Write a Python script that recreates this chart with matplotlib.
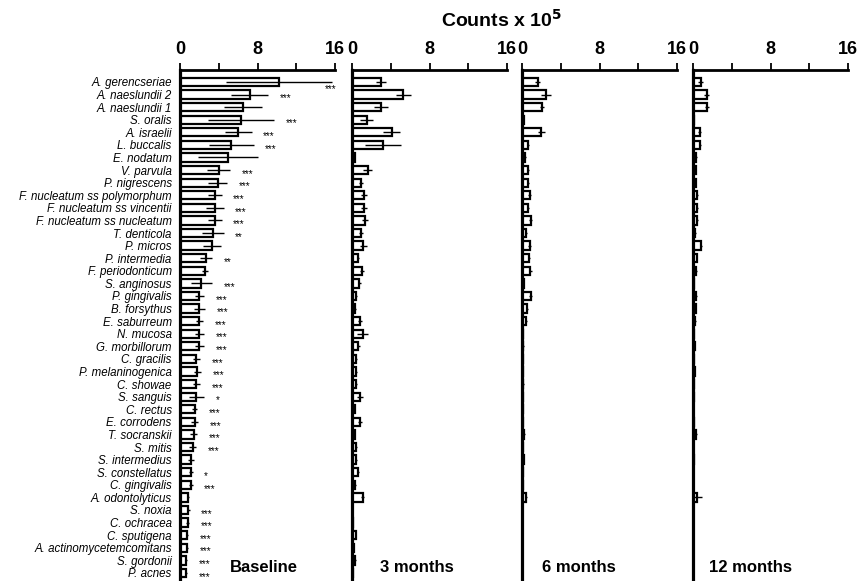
import matplotlib
matplotlib.use("Agg")
import matplotlib.pyplot as plt
import numpy as np

species = ["A. gerencseriae", "A. naeslundii 2", "A. naeslundii 1", "S. oralis", "A. israelii",
           "L. buccalis", "E. nodatum", "V. parvula", "P. nigrescens",
           "F. nucleatum ss polymorphum", "F. nucleatum ss vincentii", "F. nucleatum ss nucleatum",
           "T. denticola", "P. micros", "P. intermedia", "F. periodonticum", "S. anginosus",
           "P. gingivalis", "B. forsythus", "E. saburreum", "N. mucosa", "G. morbillorum",
           "C. gracilis", "P. melaninogenica", "C. showae", "S. sanguis", "C. rectus",
           "E. corrodens", "T. socranskii", "S. mitis", "S. intermedius", "S. constellatus",
           "C. gingivalis", "A. odontolyticus", "S. noxia", "C. ochracea", "C. sputigena",
           "A. actinomycetemcomitans", "S. gordonii", "P. acnes"]

baseline = [10.2, 7.2, 6.5, 6.3, 6.0, 5.3, 5.0, 4.0, 3.9, 3.6, 3.6, 3.6, 3.4, 3.3, 2.7, 2.6, 2.2,
            2.0, 2.0, 2.0, 2.0, 2.0, 1.7, 1.8, 1.7, 1.7, 1.5, 1.5, 1.4, 1.3, 1.1, 1.1, 1.1, 0.85,
            0.85, 0.8, 0.75, 0.75, 0.65, 0.65]
baseline_sem = [5.5, 1.9, 2.0, 3.4, 1.4, 2.3, 3.1, 1.2, 1.0, 0.7, 0.9, 0.7, 1.1, 0.9, 0.6, 0.3, 1.1,
                0.5, 0.6, 0.4, 0.5, 0.5, 0.35, 0.4, 0.4, 0.8, 0.3, 0.35, 0.35, 0.35, 0.3, 0.2, 0.2,
                0.1, 0.15, 0.15, 0.1, 0.1, 0.1, 0.1]

m3 = [3.0, 5.3, 3.0, 1.5, 4.1, 3.2, 0.3, 1.6, 0.9, 1.2, 1.2, 1.3, 0.9, 1.15, 0.6, 1.05, 0.75, 0.45,
      0.35, 0.8, 1.1, 0.65, 0.4, 0.45, 0.45, 0.8, 0.3, 0.8, 0.3, 0.45, 0.45, 0.6, 0.35, 1.1, 0.05,
      0.1, 0.4, 0.2, 0.35, 0.1]
m3_sem = [0.5, 0.8, 0.7, 0.7, 0.9, 1.9, 0.05, 0.5, 0.2, 0.3, 0.3, 0.3, 0.2, 0.35, 0.1, 0.2, 0.15,
          0.1, 0.1, 0.2, 0.6, 0.15, 0.1, 0.1, 0.1, 0.3, 0.05, 0.2, 0.05, 0.1, 0.1, 0.1, 0.05, 0.15,
          0.02, 0.02, 0.05, 0.05, 0.05, 0.02]

m6 = [1.6, 2.5, 2.1, 0.2, 2.0, 0.6, 0.35, 0.6, 0.6, 0.8, 0.6, 0.9, 0.45, 0.8, 0.7, 0.85, 0.2, 0.9,
      0.55, 0.45, 0.1, 0.15, 0.1, 0.1, 0.15, 0.1, 0.1, 0.1, 0.25, 0.1, 0.2, 0.1, 0.1, 0.45, 0.05,
      0.05, 0.05, 0.05, 0.05, 0.05]
m6_sem = [0.3, 0.5, 0.2, 0.05, 0.4, 0.1, 0.05, 0.1, 0.1, 0.15, 0.1, 0.15, 0.1, 0.15, 0.1, 0.15,
          0.05, 0.15, 0.1, 0.1, 0.02, 0.02, 0.02, 0.02, 0.02, 0.02, 0.02, 0.02, 0.05, 0.02, 0.05,
          0.02, 0.02, 0.1, 0.02, 0.02, 0.02, 0.02, 0.02, 0.02]

m12 = [0.8, 1.4, 1.4, 0.1, 0.7, 0.7, 0.35, 0.3, 0.3, 0.45, 0.45, 0.45, 0.25, 0.8, 0.4, 0.35, 0.1,
       0.35, 0.3, 0.25, 0.1, 0.2, 0.1, 0.2, 0.1, 0.1, 0.05, 0.1, 0.35, 0.05, 0.1, 0.05, 0.05, 0.4,
       0.05, 0.05, 0.05, 0.05, 0.05, 0.05]
m12_sem = [0.25, 0.3, 0.2, 0.02, 0.15, 0.1, 0.05, 0.05, 0.05, 0.1, 0.1, 0.1, 0.05, 0.1, 0.05, 0.05,
           0.02, 0.05, 0.05, 0.05, 0.02, 0.02, 0.02, 0.02, 0.02, 0.02, 0.02, 0.02, 0.05, 0.02, 0.02,
           0.02, 0.02, 0.5, 0.02, 0.02, 0.02, 0.02, 0.02, 0.02]

stars = ["***", "***", "", "***", "***", "***", "", "***", "***", "***", "***", "***", "**", "",
         "**", "", "***", "***", "***", "***", "***", "***", "***", "***", "***", "*", "***",
         "***", "***", "***", "", "*", "***", "", "***", "***", "***", "***", "***", "***"]

panel_titles = ["Baseline", "3 months", "6 months", "12 months"]
xticks_major = [0, 8, 16]
xticks_minor = [4, 12]

plt.rcParams['font.family'] = ['Liberation Sans', 'DejaVu Sans']

W, H = 864, 581
fig = plt.figure(figsize=(W / 100, H / 100), dpi=100)

lefts_px = [180, 352, 522, 693]
width_px = 155
top_px = 70
title_x = [5.15, 2.9, 2.1, 1.65]
n = len(species)
ypos = np.arange(n)

series = [(baseline, baseline_sem), (m3, m3_sem), (m6, m6_sem), (m12, m12_sem)]

for k, (vals, errs) in enumerate(series):
    ax = fig.add_axes([lefts_px[k] / W, 0, width_px / W, (H - top_px) / H])
    ax.barh(ypos, vals, height=0.66, color="white", edgecolor="black", linewidth=1.6, zorder=2)
    ax.errorbar(vals, ypos, xerr=errs, fmt="none", ecolor="black", elinewidth=1.0,
                capsize=0, zorder=3)
    ax.set_xlim(0, 16)
    ax.set_ylim(39.64, -0.95)
    ax.xaxis.tick_top()
    ax.set_xticks(xticks_major)
    ax.set_xticks(xticks_minor, minor=True)
    ax.set_xticklabels([str(t) for t in xticks_major], fontsize=13, fontweight="bold")
    ax.tick_params(axis="x", which="major", direction="out", length=5, width=1.3, pad=4)
    ax.tick_params(axis="x", which="minor", direction="out", length=5, width=1.3)
    for s in ["bottom", "right"]:
        ax.spines[s].set_visible(False)
    ax.spines["top"].set_linewidth(2)
    ax.spines["left"].set_linewidth(2.3)
    ax.patch.set_alpha(0)
    if k == 0:
        ax.set_yticks(ypos)
        ax.set_yticklabels(species, fontsize=8.3, fontstyle="italic")
        ax.tick_params(axis="y", length=0, pad=6)
        for i, s in enumerate(stars):
            if s:
                x = min(vals[i] + errs[i] + 1.2, 15.0)
                yo = 0.55 if i == 0 else 0.3
                ax.text(x, i + yo, s, fontsize=7, ha="left", va="center")
    else:
        ax.set_yticks([])
    ax.text(title_x[k], 38.53, panel_titles[k], fontsize=12, fontweight="bold",
            ha="left", va="center")

fig.text(502 / W, 1 - 20 / H, r"Counts x 10$^{\mathbf{5}}$", fontsize=14, fontweight="bold",
         ha="center", va="center")

fig.savefig("out.png", dpi=100)
